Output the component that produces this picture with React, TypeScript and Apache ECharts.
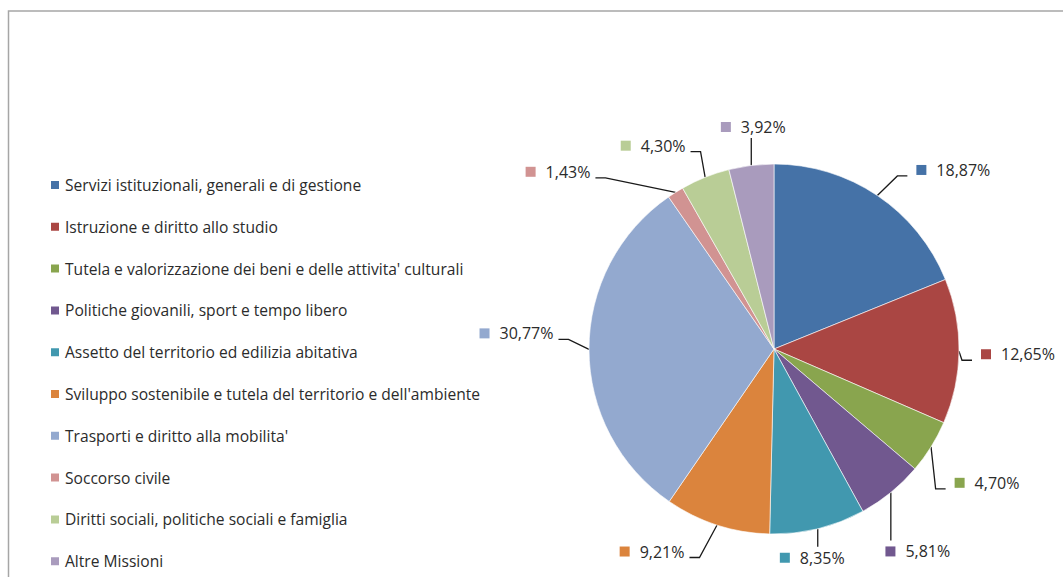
import React, { useEffect, useRef } from 'react';
import * as echarts from 'echarts';

const categories = [
  'Servizi istituzionali, generali e di gestione',
  'Istruzione e diritto allo studio',
  "Tutela e valorizzazione dei beni e delle attivita' culturali",
  'Politiche giovanili, sport e tempo libero',
  'Assetto del territorio ed edilizia abitativa',
  "Sviluppo sostenibile e tutela del territorio e dell'ambiente",
  "Trasporti e diritto alla mobilita'",
  'Soccorso civile',
  'Diritti sociali, politiche sociali e famiglia',
  'Altre Missioni',
];

const shares = [18.87, 12.65, 4.7, 5.81, 8.35, 9.21, 30.77, 1.43, 4.3, 3.92];

const colors = [
  '#4572A7', '#AA4643', '#89A54E', '#71588F', '#4198AF',
  '#DB843D', '#93A9CF', '#D19392', '#B9CD96', '#A99BBD',
];

// label placement (style): offset of label centre from the slice's edge anchor
const labelNudge: number[][] = [
  [76, -25.6], [59, 3], [56, 36], [27, 59], [-5.5, 29],
  [-65, 26.5], [-72.5, -16], [-117.5, -20.6], [-52, -31.6], [2, -38.4],
];

const FONT = '"Open Sans", Lato, sans-serif';

const fmtPct = (v: number) => v.toFixed(2).replace('.', ',') + '%';

export default function App() {
  const ref = useRef<HTMLDivElement>(null);

  useEffect(() => {
    document.body.style.margin = '0';
    if (!ref.current) return;
    const chart = echarts.init(ref.current, null, { renderer: 'svg' });

    const rich: Record<string, any> = {
      t: { fontSize: 16, fontFamily: FONT, color: '#2b2b2b', padding: [0, 0, 0, 10], lineHeight: 20 },
    };
    colors.forEach((c, i) => {
      rich['m' + i] = { width: 10, height: 10, backgroundColor: c };
    });

    chart.setOption({
      animation: false,
      backgroundColor: '#fff',
      color: colors,
      graphic: [
        {
          type: 'rect',
          silent: true,
          z: -10,
          shape: { x: 8.5, y: 11, width: 1100, height: 620 },
          style: { fill: 'none', stroke: '#a6a6a6', lineWidth: 1.5 },
        },
      ],
      legend: {
        orient: 'vertical',
        left: 49,
        top: 176,
        height: 440,
        padding: 0,
        itemWidth: 10,
        itemHeight: 10,
        itemGap: 23.8,
        icon: 'rect',
        selectedMode: false,
        data: categories,
        textStyle: { fontSize: 15.6, fontFamily: FONT, color: '#2b2b2b', lineHeight: 18 },
      },
      series: [
        {
          type: 'pie',
          center: [774, 349],
          radius: 185,
          startAngle: 90,
          clockwise: true,
          avoidLabelOverlap: false,
          itemStyle: { borderColor: '#fff', borderWidth: 0.6 },
          emphasis: { disabled: true },
          label: {
            show: true,
            position: 'outside',
            formatter: (p: any) => `{m${p.dataIndex}|}{t|${fmtPct(p.value)}}`,
            rich,
          },
          labelLine: {
            show: true,
            length: 15,
            length2: 10,
            lineStyle: { color: '#1a1a1a', width: 1.3 },
          },
          labelLayout: (p: any) => {
            const i = p.dataIndex;
            const pts = p.labelLinePoints;
            if (!pts || !pts[0]) return {};
            const px = pts[0][0];
            const py = pts[0][1];
            const w = p.labelRect.width;
            const cx = px + labelNudge[i][0];
            const cy = py + labelNudge[i][1];
            const left = cx - w / 2;
            const right = cx + w / 2;
            let line: number[][];
            if (px >= left && px <= right) {
              const ey = py < cy ? cy - 11 : cy + 11;
              line = [[px, py], [px, (py + ey) / 2], [px, ey]];
            } else if (px < left) {
              const ly = cy + 6;
              const ex = left - 9;
              line = [[px, py], [ex - 10, ly], [ex, ly]];
            } else {
              const ly = cy + 6;
              const ex = right + 5;
              line = [[px, py], [ex + 10, ly], [ex, ly]];
            }
            return {
              x: cx,
              y: cy,
              align: 'center',
              verticalAlign: 'middle',
              labelLinePoints: line,
            };
          },
          data: categories.map((name, i) => ({ name, value: shares[i] })),
        },
      ],
    });

    return () => chart.dispose();
  }, []);

  return <div ref={ref} style={{ width: 1063, height: 577 }} />;
}
